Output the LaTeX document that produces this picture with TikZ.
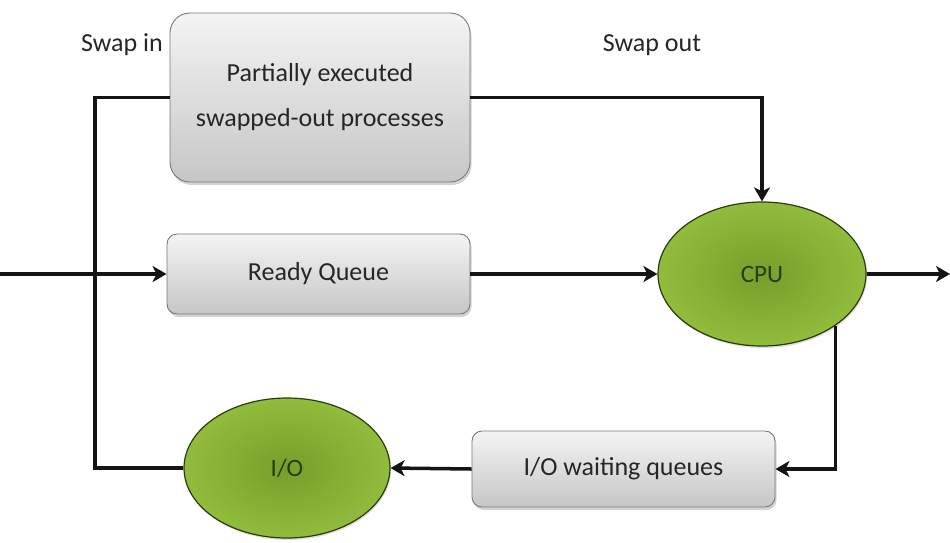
\documentclass[tikz,border=0pt]{standalone}
\usepackage{fontspec}
\setmainfont{Carlito}
\usetikzlibrary{shapes.geometric,arrows.meta,shadows,shadings}
\definecolor{boxtop}{RGB}{244,244,244}
\definecolor{boxbot}{RGB}{198,198,198}
\definecolor{boxline}{RGB}{120,120,120}
\definecolor{gin}{RGB}{118,158,42}
\definecolor{gout}{RGB}{146,188,60}
\definecolor{gline}{RGB}{40,60,12}
\definecolor{ink}{RGB}{20,20,20}
\definecolor{txt}{RGB}{38,38,38}
\tikzset{
  procbox/.style={draw=boxline, line width=0.9pt, top color=boxtop, bottom color=boxbot,
    rounded corners=10pt, align=center, text=txt, inner sep=0pt,
    font=\fontsize{26}{45}\selectfont,
    drop shadow={shadow xshift=1.5pt, shadow yshift=-3pt, opacity=0.35}},
  greenell/.style={ellipse, draw=gline, line width=1.2pt, inner color=gin, outer color=gout,
    inner sep=0pt, text=gline, font=\fontsize{25}{28}\selectfont,
    drop shadow={shadow xshift=1pt, shadow yshift=-2pt, opacity=0.25}},
  conn/.style={draw=ink, line width=3.5pt},
  arr/.style={conn, -{Stealth[length=14pt,width=16pt,inset=4pt]}},
  lbl/.style={text=txt, font=\fontsize{26}{30}\selectfont}
}
\begin{document}
\begin{tikzpicture}[x=1pt,y=-1pt]
\useasboundingbox (0,0) rectangle (950,542);
\node[procbox, rounded corners=20pt, minimum width=300pt, minimum height=169pt] (swap) at (320,97.5) {Partially executed\\swapped-out processes};
\node[procbox, minimum width=303pt, minimum height=80pt] (ready) at (318.5,274) {Ready Queue};
\node[procbox, minimum width=303pt, minimum height=76pt] (ioq) at (623.5,469) {I/O waiting queues};
\node[greenell, minimum width=208pt, minimum height=144pt] (cpu) at (762,274) {CPU};
\node[greenell, minimum width=206pt, minimum height=140pt] (io) at (287,468) {I/O};
\node[lbl] (swapin) at (122,45) {Swap in};
\node[lbl] (swapout) at (652,45) {Swap out};
\coordinate (in) at (0,274);
\coordinate (out) at (950,274);
\coordinate (lt) at (95,97.5);
\coordinate (lb) at (95,468);
\draw[arr] (in) -- (ready.west);
\draw[arr] (ready.east) -- (cpu.west);
\draw[arr] (cpu.east) -- (out);
\draw[arr] (swap.east) -| (cpu.north);
\draw[conn] (swap.west) -- (lt) -- (lb) -- (io.west);
\draw[arr] (cpu.-35) |- (ioq.east);
\draw[arr] (ioq.west) -- (io.east);
\end{tikzpicture}
\end{document}
